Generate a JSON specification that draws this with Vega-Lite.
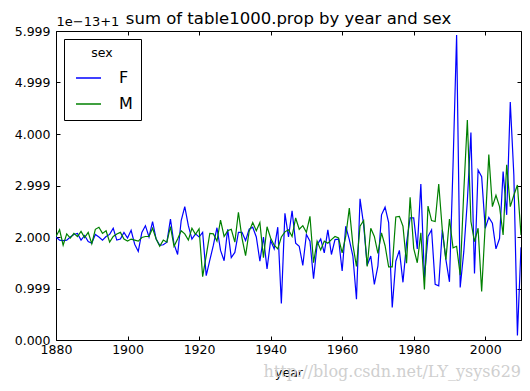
{
  "$schema": "https://vega.github.io/schema/vega-lite/v6.json",
  "width": 465,
  "height": 309,
  "autosize": {"type": "none"},
  "padding": {"left": 56, "top": 31, "right": 9, "bottom": 51},
  "background": "white",
  "title": {
    "text": "sum of table1000.prop by year and sex",
    "font": "DejaVu Sans",
    "fontSize": 16.5,
    "fontWeight": "normal",
    "color": "black",
    "anchor": "middle",
    "frame": "group",
    "offset": -12
  },
  "config": {
    "view": {"stroke": "black", "strokeWidth": 1},
    "axis": {
      "labelFont": "DejaVu Sans",
      "labelFontSize": 12.5,
      "labelColor": "black",
      "labelFlush": false,
      "labelOverlap": false,
      "titleFont": "DejaVu Sans",
      "titleFontSize": 12.5,
      "titleFontWeight": "normal",
      "titleColor": "black",
      "grid": false,
      "domain": false,
      "tickColor": "black",
      "tickSize": -4,
      "tickWidth": 1
    }
  },
  "datasets": {
    "sums": [
      {"year":1880,"sex":"F","prop":2.0},{"year":1881,"sex":"F","prop":1.94},{"year":1882,"sex":"F","prop":1.93},{"year":1883,"sex":"F","prop":1.94},{"year":1884,"sex":"F","prop":2.0},
      {"year":1885,"sex":"F","prop":2.05},{"year":1886,"sex":"F","prop":2.07},{"year":1887,"sex":"F","prop":1.94},{"year":1888,"sex":"F","prop":2.03},{"year":1889,"sex":"F","prop":1.91},
      {"year":1890,"sex":"F","prop":1.88},{"year":1891,"sex":"F","prop":2.05},{"year":1892,"sex":"F","prop":2.0},{"year":1893,"sex":"F","prop":1.94},{"year":1894,"sex":"F","prop":2.01},
      {"year":1895,"sex":"F","prop":2.05},{"year":1896,"sex":"F","prop":2.17},{"year":1897,"sex":"F","prop":1.94},{"year":1898,"sex":"F","prop":1.96},{"year":1899,"sex":"F","prop":2.09},
      {"year":1900,"sex":"F","prop":1.98},{"year":1901,"sex":"F","prop":2.13},{"year":1902,"sex":"F","prop":1.86},{"year":1903,"sex":"F","prop":1.72},{"year":1904,"sex":"F","prop":2.09},
      {"year":1905,"sex":"F","prop":2.22},{"year":1906,"sex":"F","prop":2.0},{"year":1907,"sex":"F","prop":2.3},{"year":1908,"sex":"F","prop":1.96},{"year":1909,"sex":"F","prop":1.84},
      {"year":1910,"sex":"F","prop":1.85},{"year":1911,"sex":"F","prop":1.9},{"year":1912,"sex":"F","prop":2.35},{"year":1913,"sex":"F","prop":1.86},{"year":1914,"sex":"F","prop":1.66},
      {"year":1915,"sex":"F","prop":2.32},{"year":1916,"sex":"F","prop":2.59},{"year":1917,"sex":"F","prop":2.22},{"year":1918,"sex":"F","prop":1.96},{"year":1919,"sex":"F","prop":2.06},
      {"year":1920,"sex":"F","prop":2.0},{"year":1921,"sex":"F","prop":2.09},{"year":1922,"sex":"F","prop":1.25},{"year":1923,"sex":"F","prop":1.55},{"year":1924,"sex":"F","prop":1.84},
      {"year":1925,"sex":"F","prop":2.18},{"year":1926,"sex":"F","prop":1.74},{"year":1927,"sex":"F","prop":1.54},{"year":1928,"sex":"F","prop":2.15},{"year":1929,"sex":"F","prop":1.6},
      {"year":1930,"sex":"F","prop":1.7},{"year":1931,"sex":"F","prop":2.09},{"year":1932,"sex":"F","prop":2.09},{"year":1933,"sex":"F","prop":1.93},{"year":1934,"sex":"F","prop":2.15},
      {"year":1935,"sex":"F","prop":2.19},{"year":1936,"sex":"F","prop":2.0},{"year":1937,"sex":"F","prop":1.53},{"year":1938,"sex":"F","prop":2.0},{"year":1939,"sex":"F","prop":1.38},
      {"year":1940,"sex":"F","prop":1.93},{"year":1941,"sex":"F","prop":1.77},{"year":1942,"sex":"F","prop":2.19},{"year":1943,"sex":"F","prop":0.71},{"year":1944,"sex":"F","prop":2.46},
      {"year":1945,"sex":"F","prop":2.0},{"year":1946,"sex":"F","prop":2.51},{"year":1947,"sex":"F","prop":1.88},{"year":1948,"sex":"F","prop":1.82},{"year":1949,"sex":"F","prop":1.45},
      {"year":1950,"sex":"F","prop":2.05},{"year":1951,"sex":"F","prop":1.92},{"year":1952,"sex":"F","prop":1.19},{"year":1953,"sex":"F","prop":1.85},{"year":1954,"sex":"F","prop":1.96},
      {"year":1955,"sex":"F","prop":1.69},{"year":1956,"sex":"F","prop":2.14},{"year":1957,"sex":"F","prop":1.66},{"year":1958,"sex":"F","prop":1.95},{"year":1959,"sex":"F","prop":1.96},
      {"year":1960,"sex":"F","prop":1.34},{"year":1961,"sex":"F","prop":2.21},{"year":1962,"sex":"F","prop":1.95},{"year":1963,"sex":"F","prop":1.63},{"year":1964,"sex":"F","prop":0.79},
      {"year":1965,"sex":"F","prop":2.74},{"year":1966,"sex":"F","prop":2.24},{"year":1967,"sex":"F","prop":1.45},{"year":1968,"sex":"F","prop":1.63},{"year":1969,"sex":"F","prop":1.08},
      {"year":1970,"sex":"F","prop":1.44},{"year":1971,"sex":"F","prop":2.43},{"year":1972,"sex":"F","prop":2.58},{"year":1973,"sex":"F","prop":2.28},{"year":1974,"sex":"F","prop":0.63},
      {"year":1975,"sex":"F","prop":1.53},{"year":1976,"sex":"F","prop":1.74},{"year":1977,"sex":"F","prop":1.12},{"year":1978,"sex":"F","prop":1.88},{"year":1979,"sex":"F","prop":2.37},
      {"year":1980,"sex":"F","prop":2.37},{"year":1981,"sex":"F","prop":1.77},{"year":1982,"sex":"F","prop":3.03},{"year":1983,"sex":"F","prop":1.21},{"year":1984,"sex":"F","prop":2.01},
      {"year":1985,"sex":"F","prop":2.14},{"year":1986,"sex":"F","prop":1.08},{"year":1987,"sex":"F","prop":1.05},{"year":1988,"sex":"F","prop":2.14},{"year":1989,"sex":"F","prop":1.56},
      {"year":1990,"sex":"F","prop":1.13},{"year":1991,"sex":"F","prop":3.4},{"year":1992,"sex":"F","prop":5.92},{"year":1993,"sex":"F","prop":1.02},{"year":1994,"sex":"F","prop":1.71},
      {"year":1995,"sex":"F","prop":2.7},{"year":1996,"sex":"F","prop":4.03},{"year":1997,"sex":"F","prop":1.29},{"year":1998,"sex":"F","prop":3.3},{"year":1999,"sex":"F","prop":3.17},
      {"year":2000,"sex":"F","prop":2.17},{"year":2001,"sex":"F","prop":2.38},{"year":2002,"sex":"F","prop":2.27},{"year":2003,"sex":"F","prop":1.77},{"year":2004,"sex":"F","prop":1.97},
      {"year":2005,"sex":"F","prop":3.27},{"year":2006,"sex":"F","prop":2.43},{"year":2007,"sex":"F","prop":4.62},{"year":2008,"sex":"F","prop":3.2},{"year":2009,"sex":"F","prop":0.09},
      {"year":2010,"sex":"F","prop":1.8},
      {"year":1880,"sex":"M","prop":2.01},{"year":1881,"sex":"M","prop":2.14},{"year":1882,"sex":"M","prop":1.84},{"year":1883,"sex":"M","prop":2.06},{"year":1884,"sex":"M","prop":1.98},
      {"year":1885,"sex":"M","prop":2.07},{"year":1886,"sex":"M","prop":2.01},{"year":1887,"sex":"M","prop":2.11},{"year":1888,"sex":"M","prop":1.99},{"year":1889,"sex":"M","prop":2.09},
      {"year":1890,"sex":"M","prop":1.87},{"year":1891,"sex":"M","prop":2.15},{"year":1892,"sex":"M","prop":2.19},{"year":1893,"sex":"M","prop":2.07},{"year":1894,"sex":"M","prop":2.12},
      {"year":1895,"sex":"M","prop":1.9},{"year":1896,"sex":"M","prop":2.01},{"year":1897,"sex":"M","prop":2.06},{"year":1898,"sex":"M","prop":2.09},{"year":1899,"sex":"M","prop":1.96},
      {"year":1900,"sex":"M","prop":1.92},{"year":1901,"sex":"M","prop":1.96},{"year":1902,"sex":"M","prop":1.94},{"year":1903,"sex":"M","prop":1.92},{"year":1904,"sex":"M","prop":1.99},
      {"year":1905,"sex":"M","prop":2.01},{"year":1906,"sex":"M","prop":2.01},{"year":1907,"sex":"M","prop":2.17},{"year":1908,"sex":"M","prop":1.96},{"year":1909,"sex":"M","prop":1.82},
      {"year":1910,"sex":"M","prop":1.94},{"year":1911,"sex":"M","prop":1.9},{"year":1912,"sex":"M","prop":2.2},{"year":1913,"sex":"M","prop":1.82},{"year":1914,"sex":"M","prop":1.96},
      {"year":1915,"sex":"M","prop":2.12},{"year":1916,"sex":"M","prop":2.06},{"year":1917,"sex":"M","prop":1.94},{"year":1918,"sex":"M","prop":2.17},{"year":1919,"sex":"M","prop":2.05},
      {"year":1920,"sex":"M","prop":2.16},{"year":1921,"sex":"M","prop":1.23},{"year":1922,"sex":"M","prop":1.64},{"year":1923,"sex":"M","prop":2.07},{"year":1924,"sex":"M","prop":2.06},
      {"year":1925,"sex":"M","prop":1.92},{"year":1926,"sex":"M","prop":2.33},{"year":1927,"sex":"M","prop":2.01},{"year":1928,"sex":"M","prop":2.12},{"year":1929,"sex":"M","prop":2.15},
      {"year":1930,"sex":"M","prop":1.9},{"year":1931,"sex":"M","prop":2.48},{"year":1932,"sex":"M","prop":1.98},{"year":1933,"sex":"M","prop":1.64},{"year":1934,"sex":"M","prop":2.11},
      {"year":1935,"sex":"M","prop":2.28},{"year":1936,"sex":"M","prop":2.12},{"year":1937,"sex":"M","prop":2.28},{"year":1938,"sex":"M","prop":1.6},{"year":1939,"sex":"M","prop":2.2},
      {"year":1940,"sex":"M","prop":1.98},{"year":1941,"sex":"M","prop":1.84},{"year":1942,"sex":"M","prop":1.77},{"year":1943,"sex":"M","prop":2.0},{"year":1944,"sex":"M","prop":2.1},
      {"year":1945,"sex":"M","prop":2.14},{"year":1946,"sex":"M","prop":2.01},{"year":1947,"sex":"M","prop":2.37},{"year":1948,"sex":"M","prop":2.15},{"year":1949,"sex":"M","prop":2.22},
      {"year":1950,"sex":"M","prop":2.09},{"year":1951,"sex":"M","prop":2.4},{"year":1952,"sex":"M","prop":1.5},{"year":1953,"sex":"M","prop":1.92},{"year":1954,"sex":"M","prop":1.75},
      {"year":1955,"sex":"M","prop":1.92},{"year":1956,"sex":"M","prop":1.88},{"year":1957,"sex":"M","prop":1.95},{"year":1958,"sex":"M","prop":2.01},{"year":1959,"sex":"M","prop":1.98},
      {"year":1960,"sex":"M","prop":1.69},{"year":1961,"sex":"M","prop":2.01},{"year":1962,"sex":"M","prop":2.56},{"year":1963,"sex":"M","prop":1.85},{"year":1964,"sex":"M","prop":1.43},
      {"year":1965,"sex":"M","prop":2.21},{"year":1966,"sex":"M","prop":2.32},{"year":1967,"sex":"M","prop":1.43},{"year":1968,"sex":"M","prop":2.17},{"year":1969,"sex":"M","prop":2.01},
      {"year":1970,"sex":"M","prop":1.68},{"year":1971,"sex":"M","prop":2.08},{"year":1972,"sex":"M","prop":1.83},{"year":1973,"sex":"M","prop":1.42},{"year":1974,"sex":"M","prop":1.42},
      {"year":1975,"sex":"M","prop":2.39},{"year":1976,"sex":"M","prop":2.4},{"year":1977,"sex":"M","prop":2.21},{"year":1978,"sex":"M","prop":1.49},{"year":1979,"sex":"M","prop":2.77},
      {"year":1980,"sex":"M","prop":1.78},{"year":1981,"sex":"M","prop":1.5},{"year":1982,"sex":"M","prop":2.08},{"year":1983,"sex":"M","prop":0.98},{"year":1984,"sex":"M","prop":2.6},
      {"year":1985,"sex":"M","prop":2.32},{"year":1986,"sex":"M","prop":2.3},{"year":1987,"sex":"M","prop":3.03},{"year":1988,"sex":"M","prop":2.14},{"year":1989,"sex":"M","prop":1.56},
      {"year":1990,"sex":"M","prop":2.35},{"year":1991,"sex":"M","prop":1.79},{"year":1992,"sex":"M","prop":1.82},{"year":1993,"sex":"M","prop":1.26},{"year":1994,"sex":"M","prop":2.88},
      {"year":1995,"sex":"M","prop":4.27},{"year":1996,"sex":"M","prop":2.3},{"year":1997,"sex":"M","prop":1.91},{"year":1998,"sex":"M","prop":2.17},{"year":1999,"sex":"M","prop":0.94},
      {"year":2000,"sex":"M","prop":2.23},{"year":2001,"sex":"M","prop":3.6},{"year":2002,"sex":"M","prop":2.59},{"year":2003,"sex":"M","prop":2.81},{"year":2004,"sex":"M","prop":2.59},
      {"year":2005,"sex":"M","prop":2.04},{"year":2006,"sex":"M","prop":3.4},{"year":2007,"sex":"M","prop":2.59},{"year":2008,"sex":"M","prop":2.81},{"year":2009,"sex":"M","prop":3.01},
      {"year":2010,"sex":"M","prop":2.04}
    ],
    "watermark": [
      {"year": 2010, "prop": -0.62, "label": "http://blog.csdn.net/LY_ysys629"}
    ]
  },
  "layer": [
    {
      "data": {"name": "sums"},
      "mark": {"type": "line", "strokeWidth": 1.2, "clip": true},
      "encoding": {
        "x": {
          "field": "year", "type": "quantitative",
          "scale": {"domain": [1880, 2010], "nice": false, "zero": false},
          "axis": {"orient": "bottom", "values": [1880, 1900, 1920, 1940, 1960, 1980, 2000], "format": "d", "labelPadding": 7, "title": "year", "titlePadding": 11}
        },
        "y": {
          "field": "prop", "type": "quantitative",
          "scale": {"domain": [0, 6], "nice": false, "zero": false},
          "axis": {
            "orient": "left",
            "values": [0, 1, 2, 3, 4, 5, 6],
            "labelExpr": "['0.000','0.999','2.000','2.999','4.000','4.999','5.999'][datum.value]",
            "labelPadding": 10,
            "title": "1e\u221213+1",
            "titleAngle": 0,
            "titleX": 0,
            "titleY": -3,
            "titleAlign": "left",
            "titleBaseline": "bottom",
            "titleFontSize": 13
          }
        },
        "color": {
          "field": "sex", "type": "nominal",
          "scale": {"domain": ["F", "M"], "range": ["#0000ff", "#008000"]},
          "legend": {
            "orient": "top-left",
            "offset": 8,
            "title": "sex",
            "titleFont": "DejaVu Sans",
            "titleFontSize": 12.5,
            "titleFontWeight": "normal",
            "titleColor": "black",
            "titleAnchor": "middle",
            "titlePadding": 5,
            "labelFont": "DejaVu Sans",
            "labelFontSize": 16,
            "labelColor": "black",
            "labelOffset": 17,
            "symbolType": "stroke",
            "symbolSize": 625,
            "symbolStrokeWidth": 1.5,
            "symbolOffset": 3,
            "rowPadding": 4,
            "padding": 8,
            "strokeColor": "black",
            "fillColor": "white",
            "cornerRadius": 0
          }
        }
      }
    },
    {
      "data": {"name": "sums"},
      "mark": {"type": "line", "opacity": 0},
      "encoding": {
        "x": {"field": "year", "type": "quantitative",
          "axis": {"orient": "top", "values": [1880, 1900, 1920, 1940, 1960, 1980, 2000], "labels": false, "title": null}},
        "y": {"field": "prop", "type": "quantitative",
          "axis": {"orient": "right", "values": [0, 1, 2, 3, 4, 5, 6], "labels": false, "title": null}}
      }
    },
    {
      "data": {"name": "watermark"},
      "mark": {"type": "text", "align": "right", "baseline": "middle", "font": "DejaVu Serif", "fontSize": 16, "color": "#cfcfcf", "clip": false},
      "encoding": {
        "x": {"field": "year", "type": "quantitative", "axis": null},
        "y": {"field": "prop", "type": "quantitative", "axis": null},
        "text": {"field": "label"}
      }
    }
  ],
  "resolve": {"axis": {"x": "independent", "y": "independent"}}
}
